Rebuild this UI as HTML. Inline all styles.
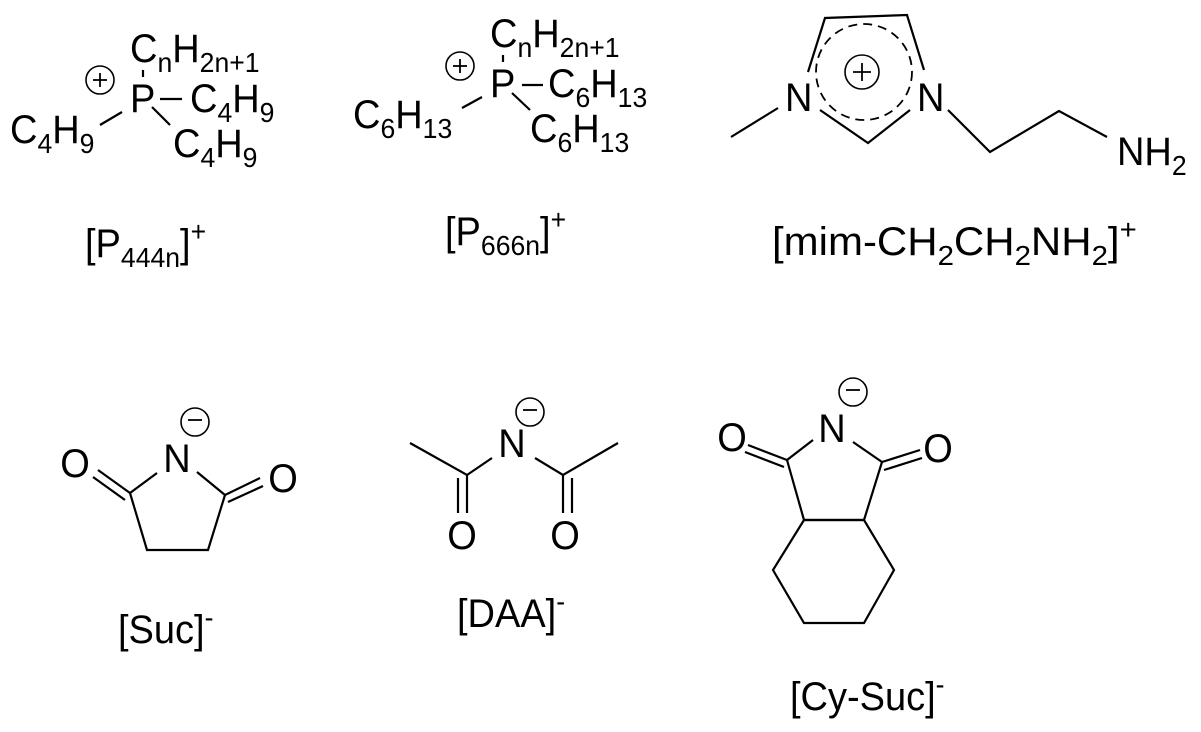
<!DOCTYPE html>
<html><head><meta charset="utf-8"><style>
html,body{margin:0;padding:0;background:#fff;}
svg{display:block;}
text{font-family:"Liberation Sans",Arial,sans-serif;fill:#000;}
</style></head><body>
<svg width="1201" height="732" viewBox="0 0 1201 732" xmlns="http://www.w3.org/2000/svg">
<g stroke="#000" stroke-width="2.2" fill="none" stroke-linecap="butt">
<circle cx="100" cy="80" r="14" stroke-width="1.6"/>
<line x1="143" y1="70" x2="143" y2="77"/>
<line x1="160" y1="99" x2="182" y2="99"/>
<line x1="100" y1="125" x2="122" y2="112"/>
<line x1="152" y1="107" x2="170" y2="125"/>
<circle cx="460" cy="66" r="14" stroke-width="1.6"/>
<line x1="503" y1="55" x2="503" y2="62"/>
<line x1="522" y1="85" x2="543" y2="85"/>
<line x1="462" y1="108" x2="482" y2="97"/>
<line x1="512" y1="93" x2="530" y2="110"/>
<polyline points="808,72 825,18 907,15 924,70"/>
<polyline points="820,110 868,143 910,110"/>
<line x1="731" y1="137" x2="778" y2="108"/>
<polyline points="948,110 990,152 1059,111 1107,137"/>
<circle cx="864" cy="72" r="48" stroke-width="1.8" stroke-dasharray="9 6"/>
<circle cx="862" cy="72" r="17" stroke-width="1.6"/>
<circle cx="195" cy="422" r="14" stroke-width="1.6"/>
<line x1="98" y1="470" x2="130" y2="493"/>
<line x1="93" y1="477" x2="125" y2="500"/>
<line x1="157" y1="473" x2="130" y2="493"/>
<polyline points="130,493 147,550 208,550 225,495"/>
<line x1="225" y1="495" x2="197" y2="472"/>
<line x1="225" y1="495" x2="260" y2="478"/>
<line x1="228" y1="502" x2="263" y2="486"/>
<circle cx="530" cy="412" r="14" stroke-width="1.6"/>
<polyline points="410,443 467,475 492,458"/>
<line x1="458" y1="478" x2="458" y2="513"/>
<line x1="467" y1="475" x2="467" y2="513"/>
<polyline points="535,458 563,475 618,443"/>
<line x1="563" y1="475" x2="563" y2="513"/>
<line x1="572" y1="478" x2="572" y2="513"/>
<circle cx="853" cy="392" r="14" stroke-width="1.6"/>
<line x1="748" y1="445" x2="787" y2="460"/>
<line x1="745" y1="452" x2="784" y2="467"/>
<line x1="813" y1="440" x2="787" y2="460"/>
<polyline points="787,460 804,520 864,520 882,462"/>
<line x1="882" y1="462" x2="853" y2="442"/>
<line x1="882" y1="462" x2="920" y2="450"/>
<line x1="884" y1="470" x2="922" y2="458"/>
<polygon points="804,520 773,570 804,623 864,623 894,570 864,520"/>
</g>
<g stroke="#000" stroke-width="1.8">
<line x1="93" y1="80" x2="107" y2="80"/><line x1="100" y1="73" x2="100" y2="87"/>
<line x1="453" y1="66" x2="467" y2="66"/><line x1="460" y1="59" x2="460" y2="73"/>
<line x1="853" y1="72" x2="871" y2="72"/><line x1="862" y1="63" x2="862" y2="81"/>
<line x1="188" y1="420" x2="202" y2="420"/>
<line x1="523" y1="410" x2="537" y2="410"/>
<line x1="846" y1="390" x2="860" y2="390"/>
</g>
<g font-size="40">
<text transform="translate(130,62) scale(0.95,1)">C<tspan font-size="28" dy="10">n</tspan><tspan dy="-10">H</tspan><tspan font-size="28" dy="10">2n+1</tspan></text>
<text transform="translate(130,112) scale(0.95,1)">P</text>
<text transform="translate(190,112) scale(0.95,1)">C<tspan font-size="28" dy="10">4</tspan><tspan dy="-10">H</tspan><tspan font-size="28" dy="10">9</tspan></text>
<text transform="translate(10,143) scale(0.95,1)">C<tspan font-size="28" dy="10">4</tspan><tspan dy="-10">H</tspan><tspan font-size="28" dy="10">9</tspan></text>
<text transform="translate(173,157) scale(0.95,1)">C<tspan font-size="28" dy="10">4</tspan><tspan dy="-10">H</tspan><tspan font-size="28" dy="10">9</tspan></text>
<text transform="translate(85,257) scale(0.95,1)">[P<tspan font-size="28" dy="10">444n</tspan><tspan dy="-10">]</tspan><tspan font-size="28" dy="-16">+</tspan></text>
<text transform="translate(490,47) scale(0.95,1)">C<tspan font-size="28" dy="10">n</tspan><tspan dy="-10">H</tspan><tspan font-size="28" dy="10">2n+1</tspan></text>
<text transform="translate(490,97) scale(0.95,1)">P</text>
<text transform="translate(548,97) scale(0.95,1)">C<tspan font-size="28" dy="10">6</tspan><tspan dy="-10">H</tspan><tspan font-size="28" dy="10">13</tspan></text>
<text transform="translate(353,128) scale(0.95,1)">C<tspan font-size="28" dy="10">6</tspan><tspan dy="-10">H</tspan><tspan font-size="28" dy="10">13</tspan></text>
<text transform="translate(530,142) scale(0.95,1)">C<tspan font-size="28" dy="10">6</tspan><tspan dy="-10">H</tspan><tspan font-size="28" dy="10">13</tspan></text>
<text transform="translate(445,245) scale(0.95,1)">[P<tspan font-size="28" dy="10">666n</tspan><tspan dy="-10">]</tspan><tspan font-size="28" dy="-16">+</tspan></text>
<text transform="translate(785,111) scale(0.95,1)">N</text>
<text transform="translate(917,111) scale(0.95,1)">N</text>
<text transform="translate(1117,165) scale(0.95,1)">NH<tspan font-size="28" dy="10">2</tspan></text>
<text transform="translate(772,255) scale(1.05,1)">[mim-CH<tspan font-size="28" dy="10">2</tspan><tspan dy="-10">CH</tspan><tspan font-size="28" dy="10">2</tspan><tspan dy="-10">NH</tspan><tspan font-size="28" dy="10">2</tspan><tspan dy="-10">]</tspan><tspan font-size="28" dy="-16">+</tspan></text>
<g text-anchor="middle">
<text transform="translate(75,477) scale(0.95,1)">O</text>
<text transform="translate(177,472) scale(0.95,1)">N</text>
<text transform="translate(283,492) scale(0.95,1)">O</text>
<text transform="translate(512,457) scale(0.95,1)">N</text>
<text transform="translate(462,549) scale(0.95,1)">O</text>
<text transform="translate(565,549) scale(0.95,1)">O</text>
<text transform="translate(832,442) scale(0.95,1)">N</text>
<text transform="translate(732,451) scale(0.95,1)">O</text>
<text transform="translate(938,462) scale(0.95,1)">O</text>
</g>
<text transform="translate(118,643) scale(0.95,1)">[Suc]<tspan font-size="28" dy="-16">-</tspan></text>
<text transform="translate(457,627) scale(0.95,1)">[DAA]<tspan font-size="28" dy="-16">-</tspan></text>
<text transform="translate(790,710) scale(0.95,1)">[Cy-Suc]<tspan font-size="28" dy="-16">-</tspan></text>
</g>
</svg>
</body></html>
